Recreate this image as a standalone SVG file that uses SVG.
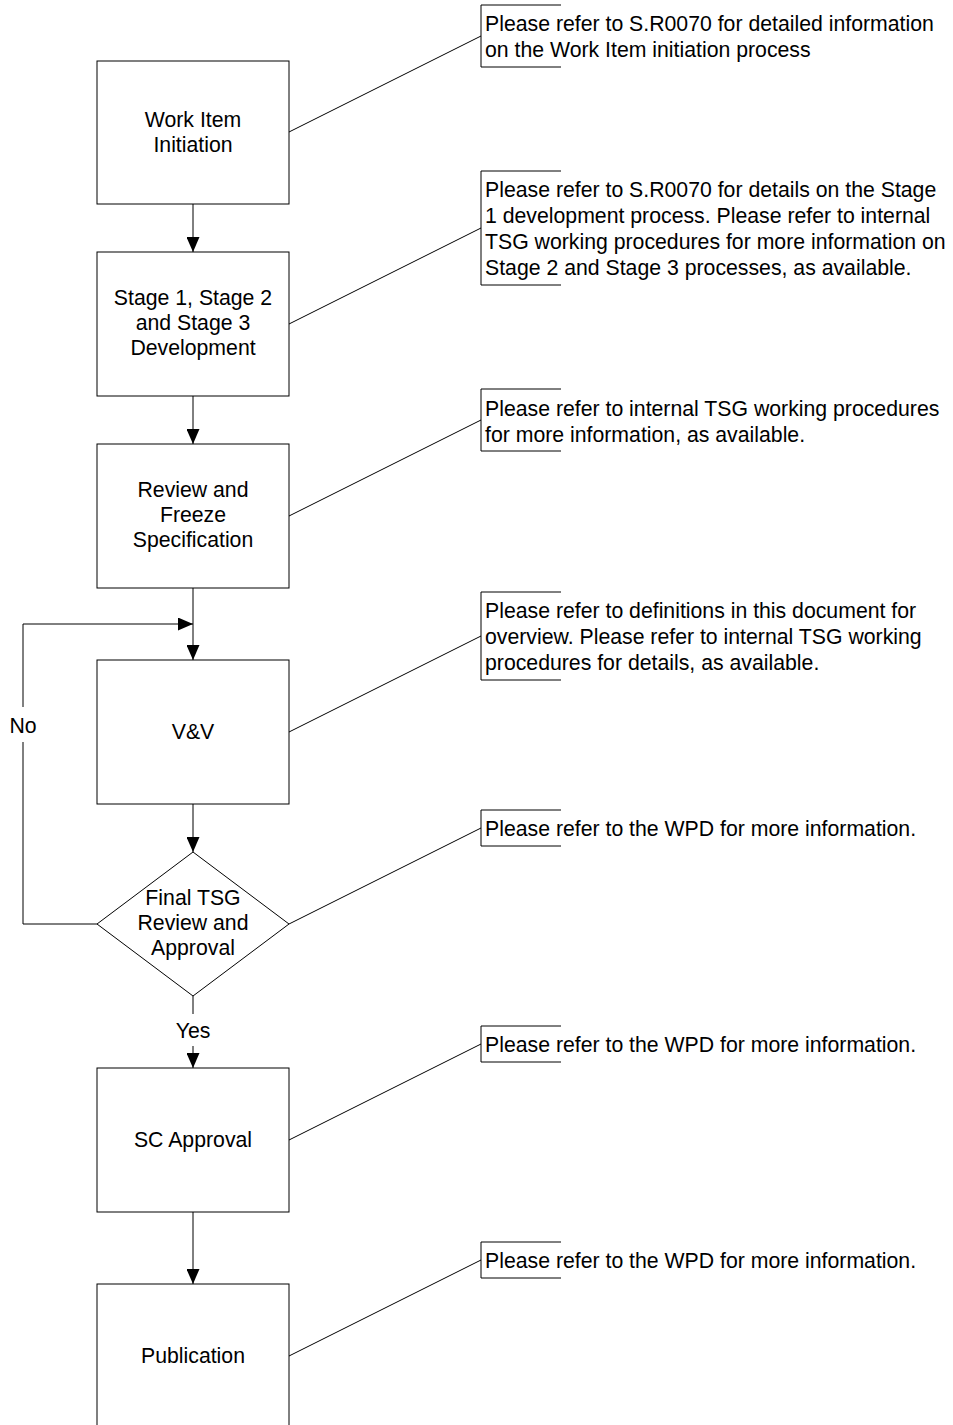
<svg xmlns="http://www.w3.org/2000/svg" width="953" height="1425" viewBox="0 0 953 1425">
<style>
text{font-family:"Liberation Sans",Arial,sans-serif;font-size:21.25px;fill:#000}
.c{text-anchor:middle}
.s{fill:#fff;stroke:#000;stroke-width:1}
.l{fill:none;stroke:#000;stroke-width:1}
.a{fill:none;stroke:#000;stroke-width:1;marker-end:url(#ah)}
</style>
<defs>
<marker id="ah" markerUnits="userSpaceOnUse" markerWidth="15" markerHeight="13" refX="15" refY="6.5" orient="auto">
<path d="M0,0 L15,6.5 L0,13 Z" fill="#000"/>
</marker>
</defs>
<rect width="953" height="1425" fill="#fff"/>
<g id="connectors">
<line class="a" x1="193" y1="204" x2="193" y2="252"/>
<line class="a" x1="193" y1="396" x2="193" y2="444"/>
<line class="a" x1="193" y1="588" x2="193" y2="660"/>
<line class="a" x1="193" y1="804" x2="193" y2="852"/>
<line class="l" x1="193" y1="996" x2="193" y2="1014"/>
<line class="a" x1="193" y1="1046" x2="193" y2="1068"/>
<text class="c" x="193" y="1038">Yes</text>
<line class="a" x1="193" y1="1212" x2="193" y2="1284"/>
<polyline class="l" points="97,924 23,924 23,742"/>
<polyline class="a" points="23,707 23,624 193,624"/>
<text class="c" x="23" y="733">No</text>
<line class="l" x1="289" y1="132" x2="481" y2="36"/>
<line class="l" x1="289" y1="324" x2="481" y2="228"/>
<line class="l" x1="289" y1="516" x2="481" y2="420"/>
<line class="l" x1="289" y1="732" x2="481" y2="636"/>
<line class="l" x1="289" y1="924" x2="481" y2="828"/>
<line class="l" x1="289" y1="1140" x2="481" y2="1044"/>
<line class="l" x1="289" y1="1356" x2="481" y2="1260"/>
</g>
<g id="n1">
<rect class="s" x="97" y="61" width="192" height="143"/>
<text class="c" x="193" y="126.5">Work Item</text>
<text class="c" x="193" y="151.5">Initiation</text>
</g>
<g id="n2">
<rect class="s" x="97" y="252" width="192" height="144"/>
<text class="c" x="193" y="305">Stage 1, Stage 2</text>
<text class="c" x="193" y="330">and Stage 3</text>
<text class="c" x="193" y="355">Development</text>
</g>
<g id="n3">
<rect class="s" x="97" y="444" width="192" height="144"/>
<text class="c" x="193" y="497">Review and</text>
<text class="c" x="193" y="522">Freeze</text>
<text class="c" x="193" y="547">Specification</text>
</g>
<g id="n4">
<rect class="s" x="97" y="660" width="192" height="144"/>
<text class="c" x="193" y="739">V&amp;V</text>
</g>
<g id="n5">
<polygon class="s" points="193,852 289,924 193,996 97,924"/>
<text class="c" x="193" y="905">Final TSG</text>
<text class="c" x="193" y="930">Review and</text>
<text class="c" x="193" y="955">Approval</text>
</g>
<g id="n6">
<rect class="s" x="97" y="1068" width="192" height="144"/>
<text class="c" x="193" y="1147">SC Approval</text>
</g>
<g id="n7">
<rect class="s" x="97" y="1284" width="192" height="144"/>
<text class="c" x="193" y="1363">Publication</text>
</g>
<g id="note1">
<polyline class="l" points="561,5 481,5 481,67 561,67"/>
<text x="485" y="31">Please refer to S.R0070 for detailed information</text>
<text x="485" y="57">on the Work Item initiation process</text>
</g>
<g id="note2">
<polyline class="l" points="561,171 481,171 481,285 561,285"/>
<text x="485" y="197">Please refer to S.R0070 for details on the Stage</text>
<text x="485" y="223">1 development process. Please refer to internal</text>
<text x="485" y="249">TSG working procedures for more information on</text>
<text x="485" y="275">Stage 2 and Stage 3 processes, as available.</text>
</g>
<g id="note3">
<polyline class="l" points="561,389 481,389 481,451 561,451"/>
<text x="485" y="416">Please refer to internal TSG working procedures</text>
<text x="485" y="442">for more information, as available.</text>
</g>
<g id="note4">
<polyline class="l" points="561,592 481,592 481,680 561,680"/>
<text x="485" y="618">Please refer to definitions in this document for</text>
<text x="485" y="644">overview. Please refer to internal TSG working</text>
<text x="485" y="670">procedures for details, as available.</text>
</g>
<g id="note5">
<polyline class="l" points="561,810 481,810 481,846 561,846"/>
<text x="485" y="836">Please refer to the WPD for more information.</text>
</g>
<g id="note6">
<polyline class="l" points="561,1026 481,1026 481,1062 561,1062"/>
<text x="485" y="1052">Please refer to the WPD for more information.</text>
</g>
<g id="note7">
<polyline class="l" points="561,1242 481,1242 481,1278 561,1278"/>
<text x="485" y="1268">Please refer to the WPD for more information.</text>
</g>
</svg>
